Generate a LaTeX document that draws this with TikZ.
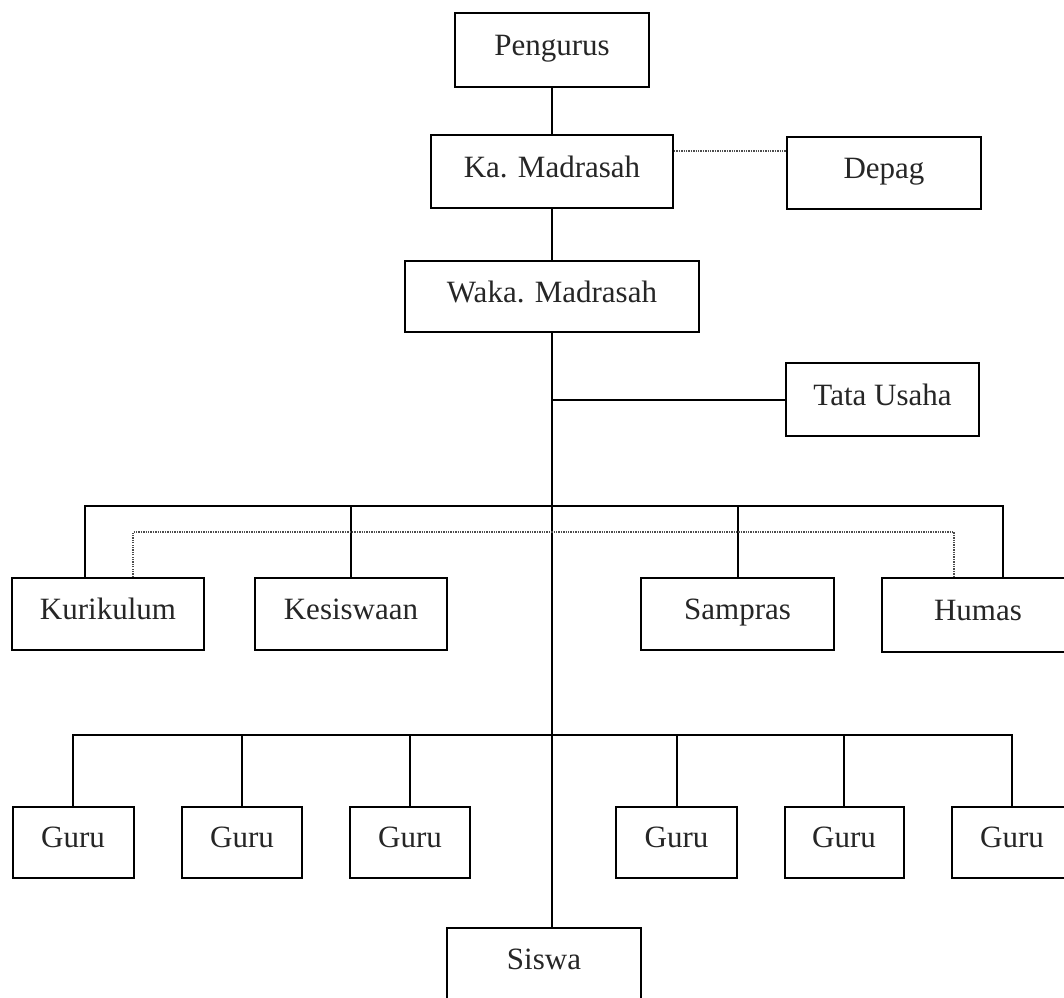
\documentclass[tikz,border=0pt]{standalone}
\usepackage{fontspec}
\setmainfont{Liberation Serif}
\usetikzlibrary{calc}
\tikzset{
  box/.style={draw=black, line width=2pt, rectangle, inner sep=0pt, fill=white,
    font=\fontsize{31}{36}\selectfont, text=black!85,
    text height=20.5pt, text depth=9.3pt},
  conn/.style={draw=black, line width=2pt},
  dotline/.style={draw=black!70, line width=1.6pt, dash pattern=on 1.3pt off 1.1pt},
}
\begin{document}
\begin{tikzpicture}[x=1pt,y=-1pt]
\clip (0,0) rectangle (1064,997);
\fill[white] (0,0) rectangle (1064,997);
% nodes
\node[box, minimum width=194pt, minimum height=74pt] (peng) at (552,50) {Pengurus};
\node[box, minimum width=242pt, minimum height=73pt] (ka) at (552,171.5) {Ka. Madrasah};
\node[box, minimum width=194pt, minimum height=72pt] (depag) at (884,173) {Depag};
\node[box, minimum width=294pt, minimum height=71pt] (waka) at (552,296.5) {Waka. Madrasah};
\node[box, minimum width=193pt, minimum height=73pt] (tu) at (882.5,399.5) {Tata Usaha};
\node[box, minimum width=192pt, minimum height=72pt] (kur) at (108,614) {Kurikulum};
\node[box, minimum width=192pt, minimum height=72pt] (kes) at (351,614) {Kesiswaan};
\node[box, minimum width=193pt, minimum height=72pt] (samp) at (737.5,614) {Sampras};
\node[box, minimum width=192pt, minimum height=74pt] (hum) at (978,615) {Humas};
\node[box, minimum width=121pt, minimum height=71pt] (g1) at (73,842) {Guru};
\node[box, minimum width=120pt, minimum height=71pt] (g2) at (242,842) {Guru};
\node[box, minimum width=120pt, minimum height=71pt] (g3) at (410,842) {Guru};
\node[box, minimum width=121pt, minimum height=71pt] (g4) at (676.5,842) {Guru};
\node[box, minimum width=119pt, minimum height=71pt] (g5) at (844,842) {Guru};
\node[box, minimum width=120pt, minimum height=71pt] (g6) at (1012,842) {Guru};
\node[box, minimum width=194pt, minimum height=72pt] (siswa) at (544,964) {Siswa};
% helper coordinates
\coordinate (kd) at (0,151);
\coordinate (bus1) at (552,506);
\coordinate (dot1) at (552,532);
\coordinate (bus2) at (552,735);
% connectors
\draw[conn] (peng.south) -- (ka.north);
\draw[conn] (ka.south) -- (waka.north);
\draw[dotline] (ka.east |- kd) -- (depag.west |- kd);
\draw[conn] (waka.south) -- (waka.south |- siswa.north);
\draw[conn] (waka.south |- tu.west) -- (tu.west);
\draw[conn] ($(kur.north)+(-23,0)$) |- (bus1) -| ($(hum.north)+(25,0)$);
\draw[conn] (kes.north) -- (kes.north |- bus1);
\draw[conn] (samp.north) -- (samp.north |- bus1);
\draw[dotline] ($(kur.north)+(25,0)$) |- (dot1) -| ($(hum.north)+(-24,0)$);
\draw[conn] (g1.north) |- (bus2) -| (g6.north);
\draw[conn] (g2.north) -- (g2.north |- bus2);
\draw[conn] (g3.north) -- (g3.north |- bus2);
\draw[conn] (g4.north) -- (g4.north |- bus2);
\draw[conn] (g5.north) -- (g5.north |- bus2);
\end{tikzpicture}
\end{document}
